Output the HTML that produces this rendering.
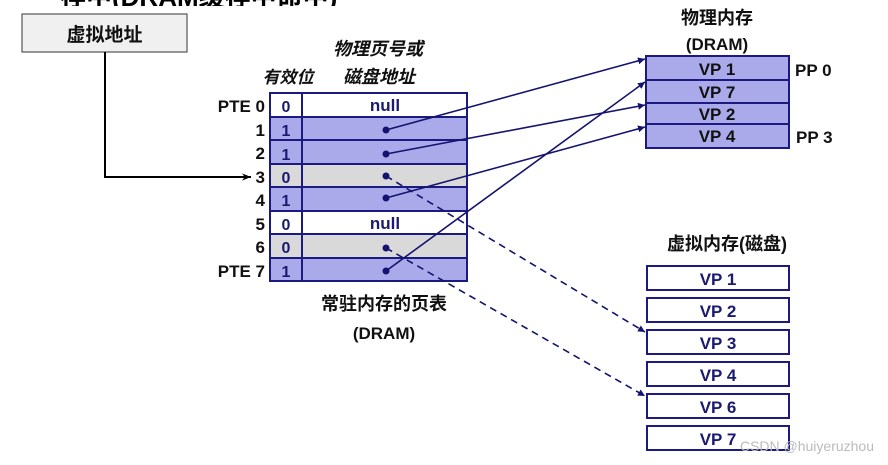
<!DOCTYPE html>
<html><head><meta charset="utf-8"><style>
html,body{margin:0;padding:0;background:#fff;width:888px;height:465px;overflow:hidden}
svg{display:block}
text{font-family:"Liberation Sans","Noto Sans CJK SC",sans-serif;font-weight:bold}
</style></head><body>
<svg width="888" height="465" viewBox="0 0 888 465" xmlns="http://www.w3.org/2000/svg">
<defs>
<marker id="a" viewBox="0 0 10 10" refX="10" refY="5" markerWidth="7" markerHeight="7" orient="auto" markerUnits="userSpaceOnUse"><path d="M0,0L10,5L0,10z" fill="#141470"/></marker>
<marker id="b" viewBox="0 0 10 10" refX="10" refY="5" markerWidth="9" markerHeight="9" orient="auto" markerUnits="userSpaceOnUse"><path d="M0,1L10,5L0,9L3,5z" fill="#000"/></marker>
</defs>
<!-- cut-off title -->
<text x="60" y="6" font-size="26" fill="#000">存中(DRAM缓存中命中)</text>
<rect x="0" y="6" width="500" height="8" fill="#fff"/>
<!-- virtual address -->
<rect x="22" y="14" width="165" height="38" fill="#f0f0f0" stroke="#555" stroke-width="1.2"/>
<text x="104.5" y="41" font-size="19" text-anchor="middle" fill="#111">虚拟地址</text>
<polyline points="105,52 105,177 251,177" fill="none" stroke="#000" stroke-width="2" marker-end="url(#b)"/>
<!-- headers -->
<text x="378" y="55" font-size="18" text-anchor="middle" font-style="italic" fill="#111">物理页号或</text>
<text x="379" y="83" font-size="18" text-anchor="middle" font-style="italic" fill="#111">磁盘地址</text>
<text x="288" y="83" font-size="17" text-anchor="middle" font-style="italic" fill="#111">有效位</text>
<!-- table -->
<g stroke="#1a1a80" stroke-width="2">
<rect x="270" y="93" width="197" height="24" fill="#fff"/>
<rect x="270" y="117" width="197" height="23" fill="#aaaaea"/>
<rect x="270" y="140" width="197" height="24" fill="#aaaaea"/>
<rect x="270" y="164" width="197" height="23" fill="#d9d9d9"/>
<rect x="270" y="187" width="197" height="24" fill="#aaaaea"/>
<rect x="270" y="211" width="197" height="23" fill="#fff"/>
<rect x="270" y="234" width="197" height="24" fill="#d9d9d9"/>
<rect x="270" y="258" width="197" height="23" fill="#aaaaea"/>
<rect x="270" y="93" width="32" height="188" fill="none"/>
</g>
<g font-size="16" fill="#1a1a70">
<text x="286" y="112" text-anchor="middle">0</text>
<text x="286" y="136" text-anchor="middle">1</text>
<text x="286" y="160" text-anchor="middle">1</text>
<text x="286" y="183" text-anchor="middle">0</text>
<text x="286" y="206" text-anchor="middle">1</text>
<text x="286" y="230" text-anchor="middle">0</text>
<text x="286" y="253" text-anchor="middle">0</text>
<text x="286" y="277" text-anchor="middle">1</text>
<text x="385" y="111" text-anchor="middle" font-size="17">null</text>
<text x="385" y="229" text-anchor="middle" font-size="17">null</text>
</g>
<g font-size="17" fill="#111" text-anchor="end">
<text x="265" y="112">PTE 0</text>
<text x="265" y="136">1</text>
<text x="265" y="159">2</text>
<text x="265" y="183">3</text>
<text x="265" y="206">4</text>
<text x="265" y="230">5</text>
<text x="265" y="253">6</text>
<text x="265" y="277">PTE 7</text>
</g>
<g fill="#141470">
<circle cx="386" cy="130" r="3.5"/><circle cx="386" cy="154" r="3.5"/>
<circle cx="386" cy="176" r="3.5"/><circle cx="386" cy="198" r="3.5"/>
<circle cx="386" cy="248" r="3.5"/><circle cx="386" cy="271" r="3.5"/>
</g>
<text x="384" y="310" font-size="18" text-anchor="middle" fill="#111">常驻内存的页表</text>
<text x="384" y="339" font-size="17" text-anchor="middle" fill="#111">(DRAM)</text>
<!-- physical memory -->
<text x="717" y="24" font-size="18" text-anchor="middle" fill="#111">物理内存</text>
<text x="717" y="50" font-size="17" text-anchor="middle" fill="#111">(DRAM)</text>
<g stroke="#1a1a80" stroke-width="2" fill="#aaaaea">
<rect x="646" y="56" width="143" height="24"/>
<rect x="646" y="80" width="143" height="23"/>
<rect x="646" y="103" width="143" height="21"/>
<rect x="646" y="124" width="143" height="24"/>
</g>
<g font-size="17" fill="#111" text-anchor="middle">
<text x="717" y="75">VP 1</text><text x="717" y="98">VP 7</text>
<text x="717" y="120">VP 2</text><text x="717" y="142">VP 4</text>
</g>
<text x="795" y="76" font-size="17" fill="#111">PP 0</text>
<text x="796" y="143" font-size="17" fill="#111">PP 3</text>
<!-- arrows -->
<g stroke="#141470" stroke-width="1.6" fill="none">
<line x1="386" y1="130" x2="645" y2="59" marker-end="url(#a)"/>
<line x1="386" y1="154" x2="645" y2="105" marker-end="url(#a)"/>
<line x1="386" y1="198" x2="645" y2="127" marker-end="url(#a)"/>
<line x1="386" y1="271" x2="645" y2="82" marker-end="url(#a)"/>
<line x1="386" y1="176" x2="645" y2="332" stroke-dasharray="7,5" marker-end="url(#a)"/>
<line x1="386" y1="248" x2="645" y2="396" stroke-dasharray="7,5" marker-end="url(#a)"/>
</g>
<!-- virtual memory disk -->
<text x="727" y="250" font-size="18" text-anchor="middle" fill="#111">虚拟内存(磁盘)</text>
<g stroke="#1a1a80" stroke-width="2" fill="#fff">
<rect x="647" y="266" width="142" height="24"/>
<rect x="647" y="298" width="142" height="24"/>
<rect x="647" y="330" width="142" height="24"/>
<rect x="647" y="362" width="142" height="24"/>
<rect x="647" y="394" width="142" height="24"/>
<rect x="647" y="426" width="142" height="24"/>
</g>
<g font-size="17" fill="#1a1a70" text-anchor="middle">
<text x="718" y="285">VP 1</text><text x="718" y="317">VP 2</text>
<text x="718" y="349">VP 3</text><text x="718" y="381">VP 4</text>
<text x="718" y="413">VP 6</text><text x="718" y="445">VP 7</text>
</g>
<text x="874" y="451" font-size="14" font-weight="normal" fill="#bbb" text-anchor="end" style="font-weight:normal">CSDN @huiyeruzhou</text>
</svg>
</body></html>
